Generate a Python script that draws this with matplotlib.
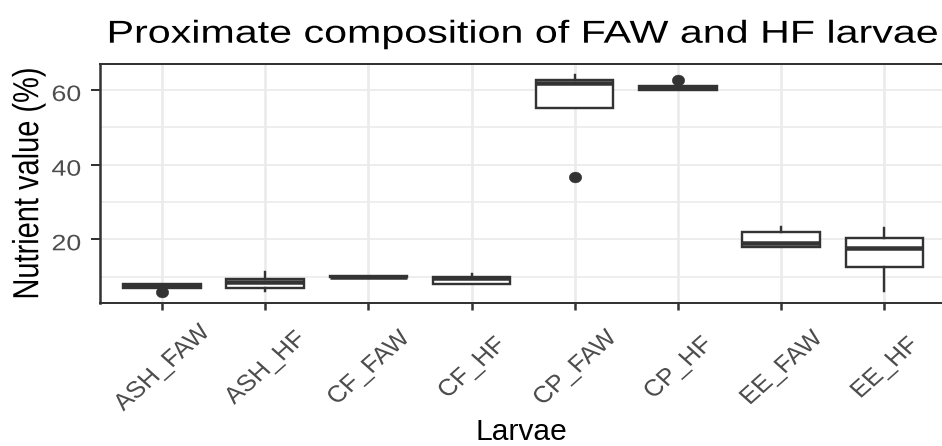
import matplotlib
matplotlib.use("Agg")
import matplotlib.pyplot as plt
from matplotlib.patheffects import AbstractPathEffect
from matplotlib.transforms import Affine2D, ScaledTranslation, blended_transform_factory
from matplotlib.path import Path
from matplotlib.ticker import FixedLocator

# ---------------- data ----------------
categories = ["ASH_FAW", "ASH_HF", "CF_FAW", "CF_HF", "CP_FAW", "CP_HF", "EE_FAW", "EE_HF"]
whislo = [7.03, 6.23, 9.85, 8.10, 55.1, 59.92, 17.93, 6.23]
q1 = [7.03, 6.95, 9.85, 8.10, 55.1, 59.92, 17.93, 12.5]
med = [7.6, 8.64, 9.95, 9.65, 61.96, 60.45, 19.14, 17.54]
q3 = [8.10, 9.28, 10.1, 9.82, 62.6, 60.99, 21.96, 20.35]
whishi = [8.10, 11.15, 10.1, 10.6, 63.94, 60.99, 23.38, 22.95]
outliers = [[5.95], [], [], [], [36.7], [62.68], [], []]
y_ticks = [20, 40, 60]
y_minor = [10, 30, 50]
title = "Proximate composition of FAW and HF larvae"
x_title = "Larvae"
y_title = "Nutrient value (%)"

W, H, DPI = 942, 446, 100
DARK = "#333333"
plt.rcParams["font.family"] = ["Liberation Sans", "DejaVu Sans"]


class HStretch(AbstractPathEffect):
    """Stretch text horizontally in screen space (reference text is widened)."""
    def __init__(self, sx, anchor="center"):
        super().__init__()
        self.sx = sx
        self.anchor = anchor

    def draw_path(self, renderer, gc, tpath, affine, rgbFace=None):
        ext = affine.transform_path(tpath).get_extents()
        if self.anchor == "right":
            cx = ext.x1
        elif self.anchor == "left":
            cx = ext.x0
        else:
            cx = 0.5 * (ext.x0 + ext.x1)
        aff = affine + Affine2D().translate(-cx, 0).scale(self.sx, 1.0).translate(cx, 0)
        renderer.draw_path(gc, tpath, aff, rgbFace)


def px(pt_px):
    return pt_px * 72.0 / DPI


fig = plt.figure(figsize=(W / DPI, H / DPI), dpi=DPI)
fig.patch.set_facecolor("white")

left_px, right_px, top_px, bot_px = 100.0, 946.2, 64.0, 303.3
ax = fig.add_axes([left_px / W, 1 - bot_px / H, (right_px - left_px) / W, (bot_px - top_px) / H])

positions = list(range(1, len(categories) + 1))
stats = []
for i, c in enumerate(categories):
    stats.append(dict(label=c, whislo=whislo[i], q1=q1[i], med=med[i],
                      q3=q3[i], whishi=whishi[i], fliers=outliers[i]))

ellipse = Path.unit_circle().transformed(Affine2D().scale(1.15, 1.0))
lw = px(2.4)
ax.bxp(stats, positions=positions, widths=0.75, showcaps=False, showfliers=True,
       patch_artist=True,
       boxprops=dict(facecolor="white", edgecolor=DARK, linewidth=lw),
       medianprops=dict(color=DARK, linewidth=px(4.5), solid_capstyle="butt"),
       whiskerprops=dict(color=DARK, linewidth=lw),
       flierprops=dict(marker=ellipse, markersize=px(12.5), markerfacecolor=DARK,
                       markeredgecolor=DARK, markeredgewidth=0.3, linestyle="none"))

ax.set_xlim(0.4, len(categories) + 0.6)
ax.set_ylim(2.85, 66.97)
ax.set_xticks(positions)
ax.yaxis.set_major_locator(FixedLocator(y_ticks))
ax.yaxis.set_minor_locator(FixedLocator(y_minor))
ax.set_axisbelow(True)
ax.xaxis.grid(True, which="major", color="#EBEBEB", linewidth=px(2.6))
ax.yaxis.grid(True, which="major", color="#EBEBEB", linewidth=px(1.8))
ax.yaxis.grid(True, which="minor", color="#EBEBEB", linewidth=px(1.6))
ax.tick_params(axis="y", which="major", length=px(9), width=px(2.0), color=DARK,
               labelleft=False)
ax.tick_params(axis="y", which="minor", length=0, labelleft=False)
ax.tick_params(axis="x", which="major", length=px(7), width=px(2.5), color=DARK,
               labelbottom=False)
for s in ax.spines.values():
    s.set_color(DARK)
    s.set_linewidth(px(2.0))
ax.spines["left"].set_linewidth(px(2.5))

# y tick labels
ytr = blended_transform_factory(ax.transAxes, ax.transData) + \
    ScaledTranslation(-19 / DPI, -11 / DPI, fig.dpi_scale_trans)
for v in y_ticks:
    ax.text(0, v, f"{v}", transform=ytr, ha="right", va="baseline",
            fontsize=px(22.3), color="#4D4D4D",
            path_effects=[HStretch(1.2, "right")])

# x tick labels
xtr = blended_transform_factory(ax.transData, ax.transAxes) + \
    ScaledTranslation(0, -(368 - bot_px) / DPI, fig.dpi_scale_trans)
for p, c in zip(positions, categories):
    ax.text(p, 0, c, transform=xtr, ha="center", va="center", rotation=45,
            fontsize=px(23.3), color="#4D4D4D", path_effects=[HStretch(1.12)])

# titles
fig.text(522.5 / W, 1 - 42.7 / H, title, ha="center", va="baseline",
         fontsize=px(31.7), color="black", path_effects=[HStretch(1.3)])
fig.text(28.3 / W, 1 - 183.5 / H, y_title, ha="center", va="center", rotation=90,
         fontsize=px(29.0), color="black", path_effects=[HStretch(1.25)])
fig.text(521.7 / W, 1 - 439.5 / H, x_title, ha="center", va="baseline",
         fontsize=px(30.0), color="black")

fig.savefig("out.png", dpi=DPI, facecolor="white")
